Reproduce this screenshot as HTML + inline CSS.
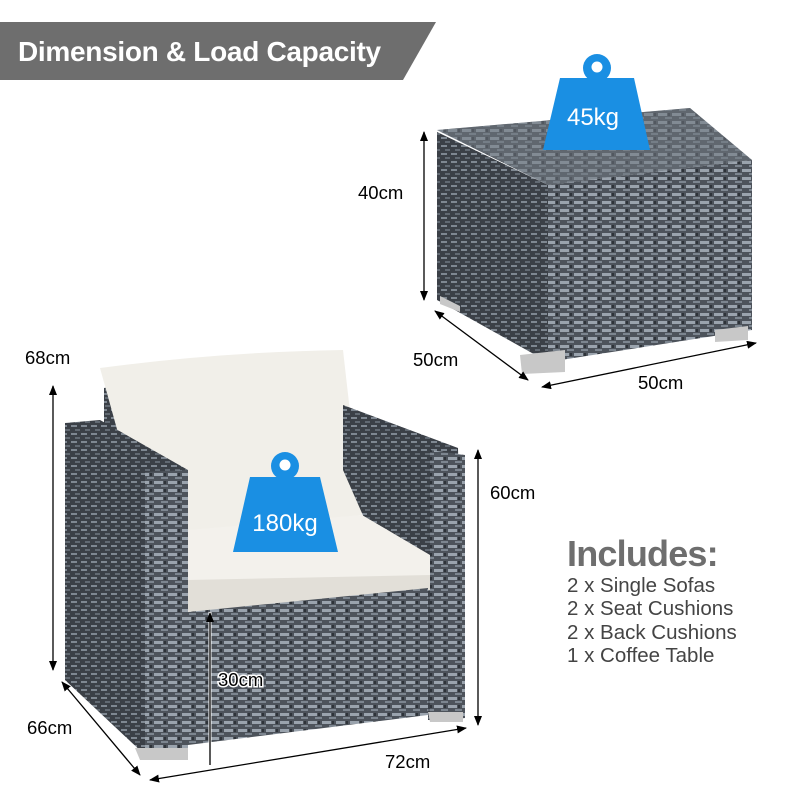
<!DOCTYPE html>
<html><head><meta charset="utf-8"><style>
html,body{margin:0;padding:0;background:#fff;width:800px;height:800px;overflow:hidden}
svg{display:block}
text{font-family:"Liberation Sans",sans-serif}
</style></head><body>
<svg width="800" height="800" viewBox="0 0 800 800" xmlns="http://www.w3.org/2000/svg">
<defs>
<pattern id="wk" width="14" height="8" patternUnits="userSpaceOnUse">
<rect width="14" height="8" fill="#4d535b"/>
<rect x="0" y="1" width="9" height="3" fill="#9aa3ad"/>
<rect x="7" y="5" width="9" height="2" fill="#7d8690"/>
<rect x="10" y="1" width="2" height="3" fill="#2e3339"/>
</pattern>
<pattern id="wk2" width="10" height="8" patternUnits="userSpaceOnUse">
<rect width="10" height="8" fill="#3b4047"/>
<rect x="1" y="1" width="6" height="2" fill="#7f8892"/>
<rect x="5" y="5" width="6" height="2" fill="#626a73"/>
</pattern>
<marker id="ar" markerWidth="10" markerHeight="8" refX="9" refY="4" orient="auto-start-reverse" markerUnits="userSpaceOnUse">
<path d="M0,0 L10,4 L0,8 Z" fill="#000"/>
</marker>
</defs>

<!-- header -->
<polygon points="0,22 436,22 403,80 0,80" fill="#6e6e6e"/>
<text x="18" y="61" font-size="28" font-weight="bold" fill="#fff" letter-spacing="-0.3">Dimension &amp; Load Capacity</text>

<!-- table -->
<polygon points="437,132 548,185 548,362 437,300" fill="url(#wk2)"/>
<polygon points="548,185 752,160 752,330 548,362" fill="url(#wk)"/>
<polygon points="437,130 690,108 752,160 548,185" fill="#6f7780"/>
<polygon points="437,130 690,108 752,160 548,185" fill="url(#wk)" opacity="0.45"/>
<polygon points="520,355 565,350 565,372 522,374" fill="#c8c8c8"/>
<polygon points="715,330 748,326 748,340 715,342" fill="#c8c8c8"/>
<polygon points="440,296 460,306 460,312 440,304" fill="#c8c8c8"/>

<!-- table weight -->
<circle cx="597" cy="68" r="14" fill="#1a8fe3"/>
<circle cx="597" cy="67" r="5.5" fill="#fff"/>
<path d="M560,78 L634,78 L650,150 L543,150 Z" fill="#1a8fe3"/>
<text x="593" y="125" font-size="24" fill="#fff" text-anchor="middle">45kg</text>

<!-- table dims -->
<line x1="424" y1="132" x2="424" y2="300" stroke="#000" stroke-width="1.3" marker-start="url(#ar)" marker-end="url(#ar)"/>
<text x="358" y="199" font-size="18.5" fill="#000">40cm</text>
<line x1="435" y1="311" x2="528" y2="380" stroke="#000" stroke-width="1.3" marker-start="url(#ar)" marker-end="url(#ar)"/>
<text x="413" y="366" font-size="18.5" fill="#000">50cm</text>
<line x1="542" y1="387" x2="756" y2="343" stroke="#000" stroke-width="1.3" marker-start="url(#ar)" marker-end="url(#ar)"/>
<text x="638" y="389" font-size="18.5" fill="#000">50cm</text>

<!-- sofa -->
<polygon points="104,388 120,385 125,440 104,440" fill="url(#wk2)"/>
<path d="M100,368 Q220,352 343,350 Q352,430 362,515 L190,535 L120,440 Z" fill="#f1efe9"/>
<polygon points="343,405 458,448 465,718 428,720 428,575 365,520 343,470" fill="url(#wk2)"/>
<polygon points="430,450 465,455 465,718 430,720" fill="url(#wk)"/>
<polygon points="188,530 362,515 430,555 430,590 188,612" fill="#f3f1ec"/>
<polygon points="188,580 430,575 430,590 188,612" fill="#e2dfd8"/>
<polygon points="188,612 428,588 428,715 188,745" fill="url(#wk)"/>
<polygon points="65,423 100,420 188,470 188,752 145,755 65,680" fill="url(#wk2)"/>
<polygon points="145,472 188,470 188,752 145,755" fill="url(#wk)"/>
<polygon points="135,748 188,748 188,760 140,760" fill="#c8c8c8"/>
<polygon points="428,712 463,712 463,722 430,722" fill="#c8c8c8"/>

<!-- sofa weight -->
<circle cx="285" cy="466" r="14" fill="#1a8fe3"/>
<circle cx="285" cy="465" r="5.5" fill="#fff"/>
<path d="M250,477 L320,477 L338,552 L233,552 Z" fill="#1a8fe3"/>
<text x="285" y="531" font-size="24" fill="#fff" text-anchor="middle">180kg</text>

<!-- sofa dims -->
<line x1="53" y1="386" x2="53" y2="670" stroke="#000" stroke-width="1.3" marker-start="url(#ar)" marker-end="url(#ar)"/>
<text x="25" y="364" font-size="18.5" fill="#000">68cm</text>
<line x1="62" y1="682" x2="140" y2="775" stroke="#000" stroke-width="1.3" marker-start="url(#ar)" marker-end="url(#ar)"/>
<text x="27" y="734" font-size="18.5" fill="#000">66cm</text>
<line x1="150" y1="780" x2="466" y2="728" stroke="#000" stroke-width="1.3" marker-start="url(#ar)" marker-end="url(#ar)"/>
<text x="385" y="768" font-size="18.5" fill="#000">72cm</text>
<line x1="478" y1="450" x2="478" y2="725" stroke="#000" stroke-width="1.3" marker-start="url(#ar)" marker-end="url(#ar)"/>
<text x="490" y="499" font-size="18.5" fill="#000">60cm</text>
<line x1="210" y1="612" x2="210" y2="765" stroke="#fff" stroke-width="3"/>
<line x1="210" y1="613" x2="210" y2="765" stroke="#000" stroke-width="1.3" marker-start="url(#ar)"/>
<text x="218" y="686" font-size="18.5" fill="#000" stroke="#fff" stroke-width="3" paint-order="stroke">30cm</text>

<!-- includes -->
<text x="567" y="566" font-size="36" font-weight="bold" fill="#6e6e6e" letter-spacing="-0.8">Includes:</text>
<text x="567" y="592" font-size="20.5" fill="#444">2 x Single Sofas</text>
<text x="567" y="615" font-size="20.5" fill="#444">2 x Seat Cushions</text>
<text x="567" y="639" font-size="20.5" fill="#444">2 x Back Cushions</text>
<text x="567" y="662" font-size="20.5" fill="#444">1 x Coffee Table</text>
</svg>
</body></html>
